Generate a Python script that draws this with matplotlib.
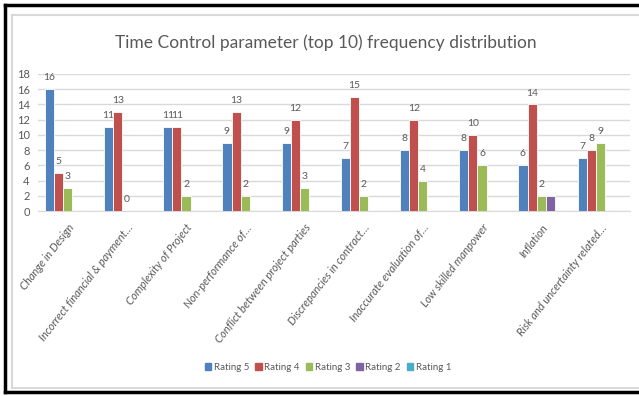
import matplotlib
matplotlib.use("Agg")
import matplotlib.pyplot as plt
import numpy as np
from matplotlib.lines import Line2D
from matplotlib.patches import Rectangle

plt.rcParams['font.family'] = ['Lato', 'DejaVu Sans']

# top 10 time control parameters and their rating counts
categories = ["Change in Design", "Incorrect financial & payment…", "Complexity of Project",
              "Non-performance of…", "Conflict between project parties",
              "Discrepancies in contract…", "Inaccurate evaluation of…",
              "Low skilled manpower", "Inflation", "Risk and uncertainty related…"]
rating5 = [16, 11, 11, 9, 9, 7, 8, 8, 6, 7]
rating4 = [5, 13, 11, 13, 12, 15, 12, 10, 14, 8]
rating3 = [3, 0, 2, 2, 3, 2, 4, 6, 2, 9]
rating2 = [None, None, None, None, None, None, None, None, 2, None]
rating1 = [None] * 10

series = [("Rating 5", rating5, "#4F81BD", True),
          ("Rating 4", rating4, "#C0504D", True),
          ("Rating 3", rating3, "#9BBB59", True),
          ("Rating 2", rating2, "#8064A2", False),
          ("Rating 1", rating1, "#4BACC6", False)]

W, H = 639, 396
fig = plt.figure(figsize=(W / 100, H / 100), dpi=100)
ax = fig.add_axes([38 / W, 1 - 211 / H, (630 - 38) / W, (211 - 74) / H])

txt = "#595959"
x = np.arange(len(categories))
bw = 1 / 6.5
handles = []
for i, (name, vals, col, show) in enumerate(series):
    pos = x + (i - 2) * bw
    h = [np.nan if v is None else v for v in vals]
    ax.bar(pos, h, width=bw, color=col, edgecolor="white", linewidth=0.6, zorder=3)
    if show:
        for p, v in zip(pos, vals):
            if v is not None:
                ax.text(p, v + 0.9, str(v), ha="center", va="bottom", fontsize=7.5, color=txt)
    handles.append(Rectangle((0, 0), 1, 1, color=col))

ax.set_xlim(-0.5, len(categories) - 0.5)
ax.set_ylim(0, 18)
ax.set_yticks(np.arange(0, 19, 2))
ax.yaxis.grid(True, color="#d9d9d9", linewidth=1, zorder=0)
ax.tick_params(axis="y", length=0, labelsize=8, labelcolor=txt, pad=6)
ax.tick_params(axis="x", length=0, pad=8)
ax.set_xticks(x)
ax.set_xticklabels(categories, rotation=52, ha="right", rotation_mode="anchor",
                   fontsize=8, color=txt, style="italic")
for s in ["top", "right", "left"]:
    ax.spines[s].set_visible(False)
ax.spines["bottom"].set_color("#d9d9d9")

fig.text(326 / W, 1 - 43 / H, "Time Control parameter (top 10) frequency distribution",
         ha="center", va="center", fontsize=12.5, color=txt)

fig.legend(handles, [s[0] for s in series], loc="center", bbox_to_anchor=(328 / W, 1 - 367 / H),
           ncol=5, frameon=False, fontsize=7, labelcolor=txt, handlelength=0.7,
           handleheight=0.7, handletextpad=0.25, columnspacing=0.6)

# chart frame and outer border
fig.add_artist(Line2D([12 / W, 1.01], [1 - 15 / H] * 2, color="#d9d9d9", lw=1.5))
fig.add_artist(Line2D([12 / W, 1.01], [1 - 388 / H] * 2, color="#d9d9d9", lw=1.5))
fig.add_artist(Line2D([12 / W] * 2, [1 - 15 / H, 1 - 388 / H], color="#d9d9d9", lw=1.5))
fig.add_artist(Line2D([5 / W, 1.01], [1 - 5 / H] * 2, color="black", lw=2.5))
fig.add_artist(Line2D([5 / W, 1.01], [1 - 392 / H] * 2, color="black", lw=2.5))
fig.add_artist(Line2D([5 / W] * 2, [1 - 5 / H, 1 - 392 / H], color="black", lw=2.5))

fig.savefig("out.png", dpi=100)
